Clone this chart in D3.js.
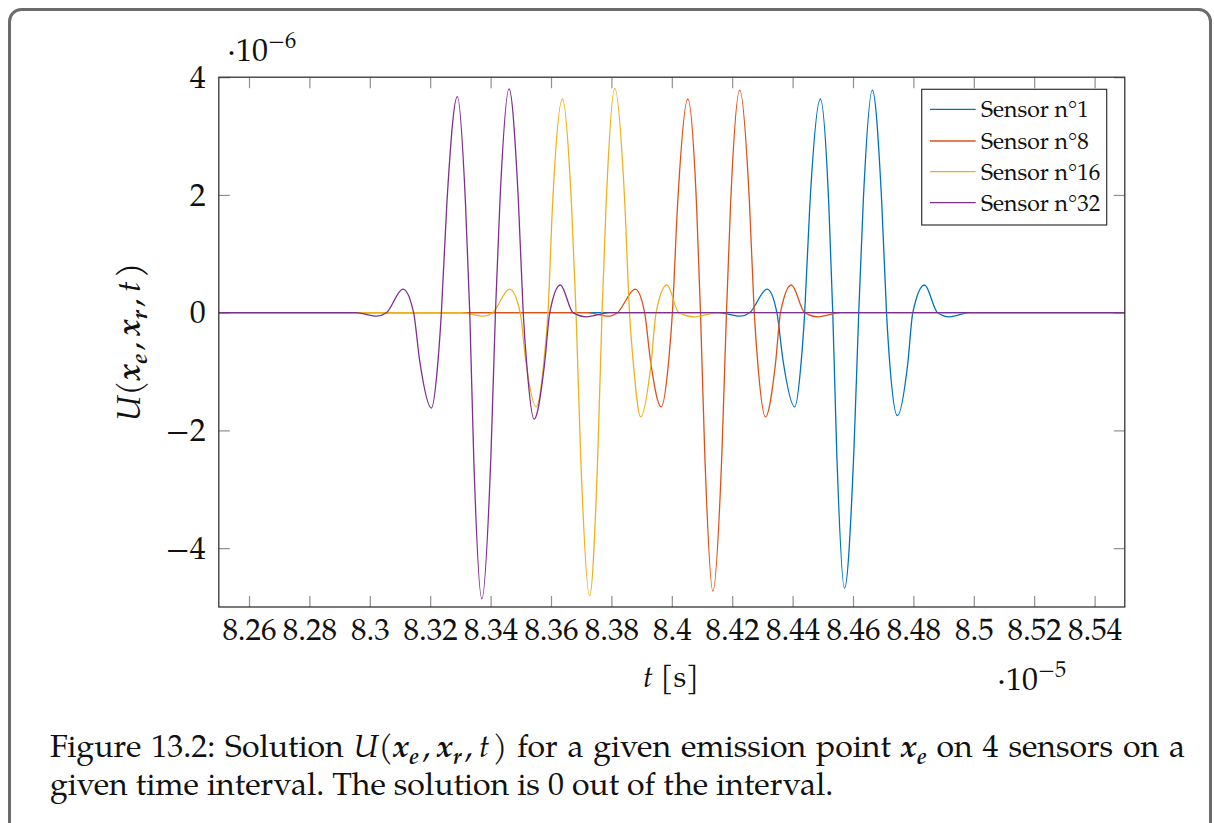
<!DOCTYPE html>
<html>
<head>
<meta charset="utf-8">
<script src="https://cdn.jsdelivr.net/npm/d3@7"></script>
<style>
  html, body { margin: 0; padding: 0; background: #fff; }
  svg { display: block; }
  text { font-family: "TeX Gyre Pagella", "Palatino Linotype", Palatino, "Liberation Serif", serif; fill: #111; }
</style>
</head>
<body>
<svg id="fig" width="1214" height="823"></svg>
<script>
// Time axis in units of 1e-5 s, displacement in units of 1e-6.
const xTicks = [8.26, 8.28, 8.30, 8.32, 8.34, 8.36, 8.38, 8.40, 8.42, 8.44, 8.46, 8.48, 8.50, 8.52, 8.54];
const xTickLabels = ["8.26", "8.28", "8.3", "8.32", "8.34", "8.36", "8.38", "8.4", "8.42", "8.44", "8.46", "8.48", "8.5", "8.52", "8.54"];
const yTicks = [-4, -2, 0, 2, 4];
const yTickLabels = ["\u22124", "\u22122", "0", "2", "4"];

const sensorNames = ["Sensor n\u00b01", "Sensor n\u00b08", "Sensor n\u00b016", "Sensor n\u00b032"];
const sensorColors = ["#0072BD", "#D95319", "#EDB120", "#7E2F8E"];

// Sensor 1
const s1T = [8.25, 8.4155, 8.4225, 8.4258, 8.4316, 8.4348, 8.4368, 8.4407, 8.4429, 8.4440, 8.4457, 8.4492, 8.4520, 8.4533, 8.4546, 8.4572, 8.4603, 8.4619, 8.4634, 8.4664, 8.4695, 8.4711, 8.4722, 8.4747, 8.4781, 8.4798, 8.4837, 8.4880, 8.4920, 8.4986, 8.55];
const s1U = [0, 0, -0.06, 0, 0.40, 0, -0.80, -1.60, -0.80, 0, 1.82, 3.63, 1.82, 0, -2.34, -4.68, -2.34, 0, 1.89, 3.78, 1.89, 0, -0.88, -1.75, -0.88, 0, 0.47, 0, -0.07, 0, 0];

// Sensor 8
const s8T = [8.25, 8.3718, 8.3789, 8.3820, 8.3879, 8.3910, 8.3929, 8.3965, 8.3990, 8.4002, 8.4019, 8.4053, 8.4082, 8.4095, 8.4109, 8.4136, 8.4166, 8.4181, 8.4195, 8.4225, 8.4257, 8.4273, 8.4285, 8.4310, 8.4343, 8.4360, 8.4396, 8.4440, 8.4484, 8.4559, 8.55];
const s8U = [0, 0, -0.06, 0, 0.40, 0, -0.80, -1.60, -0.80, 0, 1.82, 3.63, 1.82, 0, -2.37, -4.73, -2.37, 0, 1.89, 3.78, 1.89, 0, -0.88, -1.77, -0.88, 0, 0.47, 0, -0.07, 0, 0];

// Sensor 16
const s16T = [8.25, 8.3304, 8.3375, 8.3407, 8.3463, 8.3498, 8.3516, 8.3551, 8.3577, 8.3590, 8.3605, 8.3638, 8.3668, 8.3683, 8.3698, 8.3728, 8.3755, 8.3769, 8.3783, 8.3811, 8.3844, 8.3860, 8.3873, 8.3897, 8.3931, 8.3948, 8.3984, 8.4023, 8.4076, 8.4152, 8.55];
const s16U = [0, 0, -0.06, 0, 0.40, 0, -0.80, -1.60, -0.80, 0, 1.82, 3.63, 1.82, 0, -2.40, -4.81, -2.40, 0, 1.90, 3.81, 1.90, 0, -0.88, -1.77, -0.88, 0, 0.47, 0, -0.07, 0, 0];

// Sensor 32
const s32T = [8.25, 8.2953, 8.3022, 8.3055, 8.3110, 8.3145, 8.3165, 8.3204, 8.3226, 8.3237, 8.3255, 8.3290, 8.3317, 8.3331, 8.3344, 8.3371, 8.3401, 8.3416, 8.3431, 8.3461, 8.3492, 8.3508, 8.3520, 8.3544, 8.3578, 8.3596, 8.3631, 8.3673, 8.3717, 8.3794, 8.55];
const s32U = [0, 0, -0.06, 0, 0.40, 0, -0.81, -1.62, -0.81, 0, 1.84, 3.67, 1.84, 0, -2.43, -4.86, -2.43, 0, 1.90, 3.80, 1.90, 0, -0.90, -1.81, -0.90, 0, 0.47, 0, -0.07, 0, 0];

const seriesT = [s1T, s8T, s16T, s32T];
const seriesU = [s1U, s8U, s16U, s32U];

const svg = d3.select("#fig");

// Page frame around the figure
svg.append("rect")
  .attr("x", 9.5).attr("y", 9.5)
  .attr("width", 1201).attr("height", 900)
  .attr("rx", 12).attr("ry", 12)
  .attr("fill", "none").attr("stroke", "#6b6b6b").attr("stroke-width", 3);

const plot = { left: 218.8, right: 1124.8, top: 77.2, bottom: 607 };
const x = d3.scaleLinear().domain([8.25, 8.55]).range([plot.left, plot.right]);
const y = d3.scaleLinear().domain([-5, 4]).range([plot.bottom, plot.top]);

// Inward ticks on all four sides
const tickColor = "#8f8f8f";
function styleAxis(g, fontSize) {
  g.select(".domain").remove();
  g.selectAll(".tick line").attr("stroke", tickColor).attr("stroke-width", 1.2);
  g.selectAll(".tick text")
    .attr("fill", "#111")
    .attr("font-size", fontSize)
    .attr("font-family", "\"TeX Gyre Pagella\", \"Palatino Linotype\", Palatino, \"Liberation Serif\", serif");
}

svg.append("g")
  .attr("transform", `translate(0,${plot.bottom})`)
  .call(d3.axisBottom(x).tickValues(xTicks).tickFormat((d, i) => xTickLabels[i]).tickSizeInner(-11).tickSizeOuter(0).tickPadding(11))
  .call(g => styleAxis(g, 31));

svg.append("g")
  .attr("transform", `translate(0,${plot.top})`)
  .call(d3.axisTop(x).tickValues(xTicks).tickFormat("").tickSizeInner(-11).tickSizeOuter(0))
  .call(g => styleAxis(g, 31));

svg.append("g")
  .attr("transform", `translate(${plot.left},0)`)
  .call(d3.axisLeft(y).tickValues(yTicks).tickFormat((d, i) => yTickLabels[i]).tickSizeInner(-11).tickSizeOuter(0).tickPadding(13))
  .call(g => styleAxis(g, 32));

svg.append("g")
  .attr("transform", `translate(${plot.right},0)`)
  .call(d3.axisRight(y).tickValues(yTicks).tickFormat("").tickSizeInner(-11).tickSizeOuter(0))
  .call(g => styleAxis(g, 32));

// Signals
svg.append("clipPath").attr("id", "plotClip")
  .append("rect")
  .attr("x", plot.left).attr("y", plot.top)
  .attr("width", plot.right - plot.left).attr("height", plot.bottom - plot.top);

const line = d3.line()
  .x(d => x(d[0]))
  .y(d => y(d[1]))
  .curve(d3.curveMonotoneX);

const lines = svg.append("g").attr("clip-path", "url(#plotClip)");
seriesT.forEach((ts, i) => {
  const pts = ts.map((t, k) => [t, seriesU[i][k]]);
  lines.append("path")
    .datum(pts)
    .attr("d", line)
    .attr("fill", "none")
    .attr("stroke", sensorColors[i])
    .attr("stroke-width", 1.3)
    .attr("stroke-linejoin", "round");
});

// Axis frame
svg.append("rect")
  .attr("x", plot.left).attr("y", plot.top)
  .attr("width", plot.right - plot.left).attr("height", plot.bottom - plot.top)
  .attr("fill", "none").attr("stroke", "#333").attr("stroke-width", 1.3);

// Rich text with italic / bold italic math and sub/superscripts
function rich(textSel, runs, size) {
  let shift = 0;
  runs.forEach(r => {
    const target = r.pos === "sub" ? size * 0.22 : r.pos === "sup" ? -size * 0.42 : 0;
    const ts = textSel.append("tspan").text(r.s).attr("dy", target - shift);
    shift = target;
    if (r.pos) ts.attr("font-size", size * 0.7);
    if (r.st === "i") ts.attr("font-style", "italic");
    if (r.st === "bi") ts.attr("font-style", "italic").attr("font-weight", "bold");
  });
}

const mathU = [
  { s: "U", st: "i" }, { s: "(" },
  { s: "x", st: "bi" }, { s: "e", st: "bi", pos: "sub" }, { s: "\u200a,\u2009" },
  { s: "x", st: "bi" }, { s: "r", st: "bi", pos: "sub" }, { s: "\u200a,\u2009" },
  { s: "t", st: "i" }, { s: "\u200a)" }
];

// Y axis label
const yl = svg.append("text")
  .attr("transform", `translate(140,342) rotate(-90)`)
  .attr("text-anchor", "middle")
  .attr("font-size", 33);
rich(yl, mathU, 33);

// X axis label
const xl = svg.append("text")
  .attr("x", 671).attr("y", 687)
  .attr("text-anchor", "middle")
  .attr("font-size", 30);
rich(xl, [{ s: "t", st: "i" }, { s: " [s]" }], 30);

// Scale factors
const ey = svg.append("text").attr("x", 227).attr("y", 61).attr("font-size", 32);
rich(ey, [{ s: "\u00b710" }, { s: "\u22126", pos: "sup" }], 32);
const ex = svg.append("text").attr("x", 997).attr("y", 690).attr("font-size", 32);
rich(ex, [{ s: "\u00b710" }, { s: "\u22125", pos: "sup" }], 32);

// Legend
const legend = svg.append("g");
legend.append("rect")
  .attr("x", 921.7).attr("y", 89.3).attr("width", 185).attr("height", 135.7)
  .attr("fill", "#fff").attr("stroke", "#333").attr("stroke-width", 1.2);
const legendRows = [109.3, 141, 171.7, 202.7];
sensorNames.forEach((name, i) => {
  legend.append("line")
    .attr("x1", 930).attr("x2", 975.7)
    .attr("y1", legendRows[i]).attr("y2", legendRows[i])
    .attr("stroke", sensorColors[i]).attr("stroke-width", 1.3);
  legend.append("text")
    .attr("x", 981).attr("y", legendRows[i]).attr("dy", "0.35em")
    .attr("font-size", 23)
    .text(name);
});

// Caption: first line justified to the text block width, last line natural
const capSize = 32;
const cap1 = svg.append("text").attr("x", 50).attr("y", 757).attr("font-size", capSize);
rich(cap1, [{ s: "Figure 13.2: Solution " }].concat(mathU, [
  { s: " for a given emission point " },
  { s: "x", st: "bi" }, { s: "e", st: "bi", pos: "sub" },
  { s: " on 4 sensors on a" }
]), capSize);
const natural = cap1.node().getComputedTextLength();
const gaps = (cap1.text().match(/ /g) || []).length;
if (natural < 1135 && gaps > 0) cap1.attr("word-spacing", (1135 - natural) / gaps);
svg.append("text").attr("x", 50).attr("y", 795).attr("font-size", capSize)
  .text("given time interval. The solution is 0 out of the interval.");
</script>
</body>
</html>
